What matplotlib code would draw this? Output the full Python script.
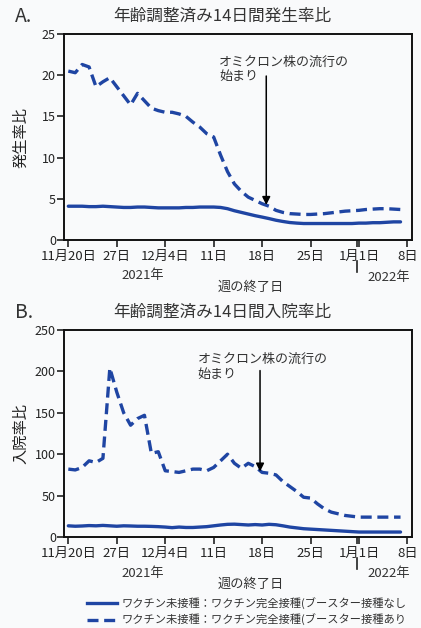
import matplotlib
matplotlib.use("Agg")
import matplotlib.pyplot as plt
from matplotlib.lines import Line2D

plt.rcParams['font.family'] = ['Noto Sans CJK JP', 'DejaVu Sans']

# 日数（11月20日 = 0）
days = list(range(49))
tick_pos = [0, 7, 14, 21, 28, 35, 42, 49]
tick_labels = ['11月20日', '27日', '12月4日', '11日', '18日', '25日', '1月1日', '8日']

# A. 発生率比
inc_no_booster = [4.1, 4.1, 4.1, 4.05, 4.05, 4.1, 4.05, 4.0, 3.95, 3.95, 4.0, 4.0, 3.95,
                  3.9, 3.9, 3.9, 3.9, 3.95, 3.95, 4.0, 4.0, 4.0, 3.95, 3.8, 3.55, 3.35,
                  3.15, 2.95, 2.78, 2.6, 2.4, 2.25, 2.12, 2.05, 2.0, 2.0, 2.0, 2.0, 2.0,
                  2.0, 2.0, 2.0, 2.05, 2.05, 2.1, 2.1, 2.15, 2.2, 2.2]
inc_booster = [20.5, 20.3, 21.3, 21.0, 18.6, 19.2, 19.7, 18.6, 17.5, 16.4, 17.8, 16.9, 16.0,
               15.7, 15.5, 15.5, 15.3, 15.0, 14.3, 13.7, 12.9, 12.5, 10.3, 8.3, 6.8, 5.9,
               5.2, 4.8, 4.4, 4.1, 3.6, 3.35, 3.2, 3.15, 3.1, 3.1, 3.15, 3.2, 3.3, 3.4,
               3.5, 3.55, 3.6, 3.7, 3.75, 3.8, 3.8, 3.75, 3.7]

# B. 入院率比
hosp_no_booster = [13.5, 13.0, 13.3, 13.8, 13.5, 14.0, 13.5, 13.0, 13.5, 13.3, 13.0, 13.0,
                   12.8, 12.5, 12.0, 11.3, 12.0, 11.5, 11.5, 12.0, 12.5, 13.5, 14.5, 15.3,
                   15.5, 15.0, 14.5, 15.0, 14.5, 15.3, 14.8, 13.5, 12.0, 11.0, 10.0, 9.5,
                   9.0, 8.5, 8.0, 7.5, 7.0, 6.5, 6.0, 6.0, 6.0, 6.0, 6.0, 6.0, 6.0]
hosp_booster = [82, 81, 84, 92, 90, 95, 204, 175, 150, 135, 143, 147, 101, 103, 80, 79, 78,
                80, 82, 82, 80, 84, 92, 100, 89, 83, 89, 85, 78, 77, 75, 67, 61, 55, 48, 47,
                40, 34, 30, 28, 26, 25, 24, 24, 24, 24, 24, 24, 24]

legend_labels = ['ワクチン未接種：ワクチン完全接種(ブースター接種なし',
                 'ワクチン未接種：ワクチン完全接種(ブースター接種あり']

W, H = 421, 628
blue = '#1f45a3'
dash = (0, (3.3, 1.7))


def fx(px):
    return px / W


def fy(py):
    return 1 - py / H


fig = plt.figure(figsize=(W / 100, H / 100), dpi=100, facecolor='#f9fafb')

panels = [
    dict(top=34, bottom=240, solid=inc_no_booster, dashed=inc_booster, ymax=25, ystep=5,
         letter='A.', title='年齢調整済み14日間発生率比', ylabel='発生率比',
         arrow_x=28.6, arrow_top=19.9, arrow_tip=4.25, text_x=21.8, text_y=22.4),
    dict(top=330, bottom=537, solid=hosp_no_booster, dashed=hosp_booster, ymax=250, ystep=50,
         letter='B.', title='年齢調整済み14日間入院率比', ylabel='入院率比',
         arrow_x=27.7, arrow_top=201, arrow_tip=79, text_x=18.7, text_y=222),
]

left, right = 64.3, 412.3
for p in panels:
    ax = fig.add_axes([fx(left), fy(p['bottom']), fx(right) - fx(left),
                       fy(p['top']) - fy(p['bottom'])])
    ax.set_facecolor('#f9fafb')
    ax.plot(days, p['solid'], color=blue, lw=2.4, solid_capstyle='round')
    ax.plot(days, p['dashed'], color=blue, lw=2.4, linestyle=dash)
    ax.set_xlim(-0.58, 49.7)
    ax.set_ylim(0, p['ymax'])
    ax.set_yticks(range(0, p['ymax'] + 1, p['ystep']))
    ax.set_xticks(tick_pos)
    ax.set_xticklabels(tick_labels)
    ax.set_xticks([41.7], minor=True)
    ax.tick_params(axis='both', which='both', direction='out', length=5, width=1.2,
                   labelsize=9.5, colors='#222222', pad=2)
    ax.tick_params(axis='y', labelsize=9, pad=1)
    for s in ax.spines.values():
        s.set_linewidth(1.4)
        s.set_color('#111111')

    ax.annotate('', xy=(p['arrow_x'], p['arrow_tip']), xytext=(p['arrow_x'], p['arrow_top']),
                arrowprops=dict(arrowstyle='-|>', color='black', lw=1.1,
                                mutation_scale=12, shrinkA=0, shrinkB=0))
    ax.text(p['text_x'], p['text_y'], 'オミクロン株の流行の\n始まり', ha='left', va='top',
            fontsize=9.4, color='#333333', linespacing=1.15)

    b = p['bottom']
    fig.text(fx(15), fy(p['top'] - 17), p['letter'], fontsize=14, color='#333333',
             ha='left', va='center')
    fig.text(fx(222), fy(p['top'] - 18), p['title'], fontsize=12, color='#333333',
             ha='center', va='center')
    fig.text(fx(21), fy((p['top'] + p['bottom']) / 2), p['ylabel'], fontsize=11,
             rotation=90, ha='center', va='center', color='#222222')
    fig.text(fx(143), fy(b + 36), '2021年', fontsize=9.5, ha='center', va='center',
             color='#333333')
    fig.text(fx(389), fy(b + 37), '2022年', fontsize=9.5, ha='center', va='center',
             color='#333333')
    fig.text(fx(251), fy(b + 47), '週の終了日', fontsize=9.5, ha='center', va='center',
             color='#333333')
    fig.add_artist(Line2D([fx(357), fx(357)], [fy(b + 21), fy(b + 32)], color='#222222',
                          lw=1.2))

# 凡例
for i, (lab, ls) in enumerate(zip(legend_labels, ['-', dash])):
    y = 603 + i * 16.5
    fig.add_artist(Line2D([fx(87), fx(117)], [fy(y), fy(y)], color=blue, lw=2.4,
                          linestyle=ls))
    fig.text(fx(122), fy(y), lab, fontsize=8.1, ha='left', va='center', color='#333333')

fig.savefig('out.png', dpi=100, facecolor=fig.get_facecolor())
